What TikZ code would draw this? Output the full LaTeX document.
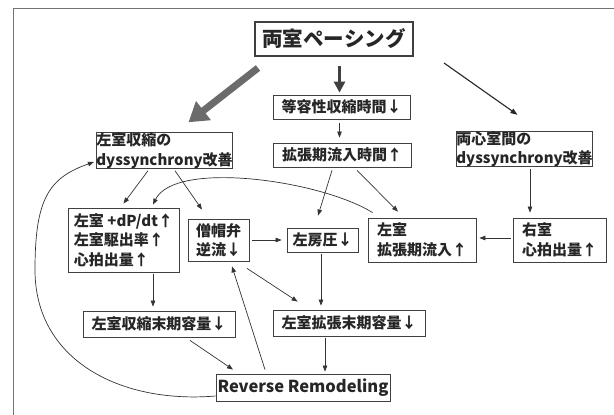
\documentclass[tikz,border=0pt]{standalone}
\usepackage{fontspec}
\setmainfont{Noto Sans CJK JP}
\usetikzlibrary{arrows.meta,calc}
\tikzset{
  box/.style={draw=black!75, line width=0.8pt, fill=white, inner sep=0pt, align=left,
    font=\fontsize{15}{19.5}\selectfont\bfseries, text=black!85},
  arr/.style={draw=black!80, line width=0.7pt, -{Triangle[length=6pt,width=4.5pt]}},
  bigarr/.style={draw=black!58, line width=7pt, -{Triangle[length=19pt,width=23pt]}},
  midarr/.style={draw=black!75, line width=3pt, -{Triangle[length=11pt,width=11pt]}},
  thinarr/.style={draw=black!85, line width=1.1pt, -{Triangle[length=7pt,width=5pt]}},
}
\begin{document}
\begin{tikzpicture}[x=1pt, y=-1pt]
\useasboundingbox (0,0) rectangle (614,415);
\fill[white] (0,0) rectangle (614,415);
\draw[black!55, line width=0.9pt] (13,415) -- (13,8) -- (614,8);

\node[box, minimum width=158pt, minimum height=34pt, line width=2pt, font=\fontsize{20.5}{24}\selectfont\bfseries] (ryo) at (334,39) {両室ペーシング};
\node[box, minimum width=137pt, minimum height=24pt] (toyo) at (341.5,107) {等容性収縮時間↓};
\node[box, minimum width=138pt, minimum height=24pt] (kak) at (342,155) {拡張期流入時間↑};
\node[box, minimum width=133pt, minimum height=35pt] (lvdys) at (164.5,150.5) {左室収縮の\\dyssynchrony改善};
\node[box, minimum width=125pt, minimum height=34pt] (bidys) at (524.5,149) {両心室間の\\dyssynchrony改善};
\node[box, minimum width=111pt, minimum height=64pt] (lvdp) at (123.5,240) {左室 +dP/dt↑\\左室駆出率↑\\心拍出量↑};
\node[box, minimum width=61pt, minimum height=42pt] (mr) at (218.5,240) {僧帽弁\\逆流↓};
\node[box, minimum width=71pt, minimum height=24pt] (la) at (322.5,240) {左房圧↓};
\node[box, minimum width=108pt, minimum height=44pt] (lvin) at (422,240) {左室\\拡張期流入↑};
\node[box, minimum width=93pt, minimum height=44pt] (rv) at (559.5,240) {右室\\心拍出量↑};
\node[box, minimum width=152pt, minimum height=26pt] (lves) at (159,324) {左室収縮末期容量↓};
\node[box, minimum width=152pt, minimum height=26pt] (lved) at (349,323) {左室拡張末期容量↓};
\node[box, minimum width=174pt, minimum height=27pt, font=\fontsize{16.5}{20}\selectfont\bfseries] (rr) at (303,387.5) {Reverse Remodeling};

% top arrows
\draw[bigarr] ($(ryo.south west)+(4,11)$) -- ($(lvdys.north)+(24,-10)$);
\draw[midarr] ($(ryo.south)+(5.5,9)$) -- ($(toyo.north)+(-2,-2)$);
\draw[thinarr] ($(ryo.south east)+(30,6)$) -- ($(bidys.north)+(-7,-16)$);
\draw[arr] ($(toyo.south)+(-2,4)$) -- ($(kak.north)+(-2.5,-5)$);

\draw[arr] ($(lvdys.south)+(-16.5,2)$) -- ($(lvdp.north)+(0,-4)$);
\draw[arr] ($(lvdys.south)+(10.5,2)$) -- ($(mr.north)+(-16.5,-9)$);
\draw[arr] ($(kak.south)+(-10,3)$) -- ($(la.north)+(-4.5,-12)$);
\draw[arr] ($(kak.south)+(15,3)$) -- ($(lvin.north)+(-24,-6)$);
\draw[arr] ($(bidys.south)+(5.5,2)$) -- ($(rv.north)+(-29.5,-5)$);
\draw[arr] ($(rv.west)+(-2,-2)$) -- ($(lvin.east)+(3,-2)$);
\draw[arr] ($(mr.east)+(3,0)$) -- ($(la.west)+(-5,0)$);

\draw[arr] ($(lvin.north west)+(5,-5)$) .. controls (320,180) and (175,160) .. ($(lvdp.north)+(29.5,-3)$);

\draw[arr] ($(lvdp.south)+(29.5,2)$) -- ($(lves.north)+(-6,-4)$);
\draw[arr] ($(la.south)+(-1.5,2)$) -- ($(lved.north)+(-28,-4)$);
\draw[arr] ($(mr.south)+(28.5,7)$) -- ($(lved.north west)+(25,-8)$);
\draw[arr] ($(lves.south)+(31,3)$) -- ($(rr.north)+(-70,-4)$);
\draw[arr] ($(lved.south)+(-24,2)$) -- ($(rr.north)+(22,-2)$);
\draw[arr] ($(rr.north)+(-38,-4)$) -- ($(mr.south)+(13.5,5)$);

\draw[arr] ($(rr.west)+(0,8.5)$) .. controls (120,404) and (35,360) .. (35,270)
  .. controls (35,200) and (48,178) .. ($(lvdys.west)+(-2,11.5)$);
\end{tikzpicture}
\end{document}
